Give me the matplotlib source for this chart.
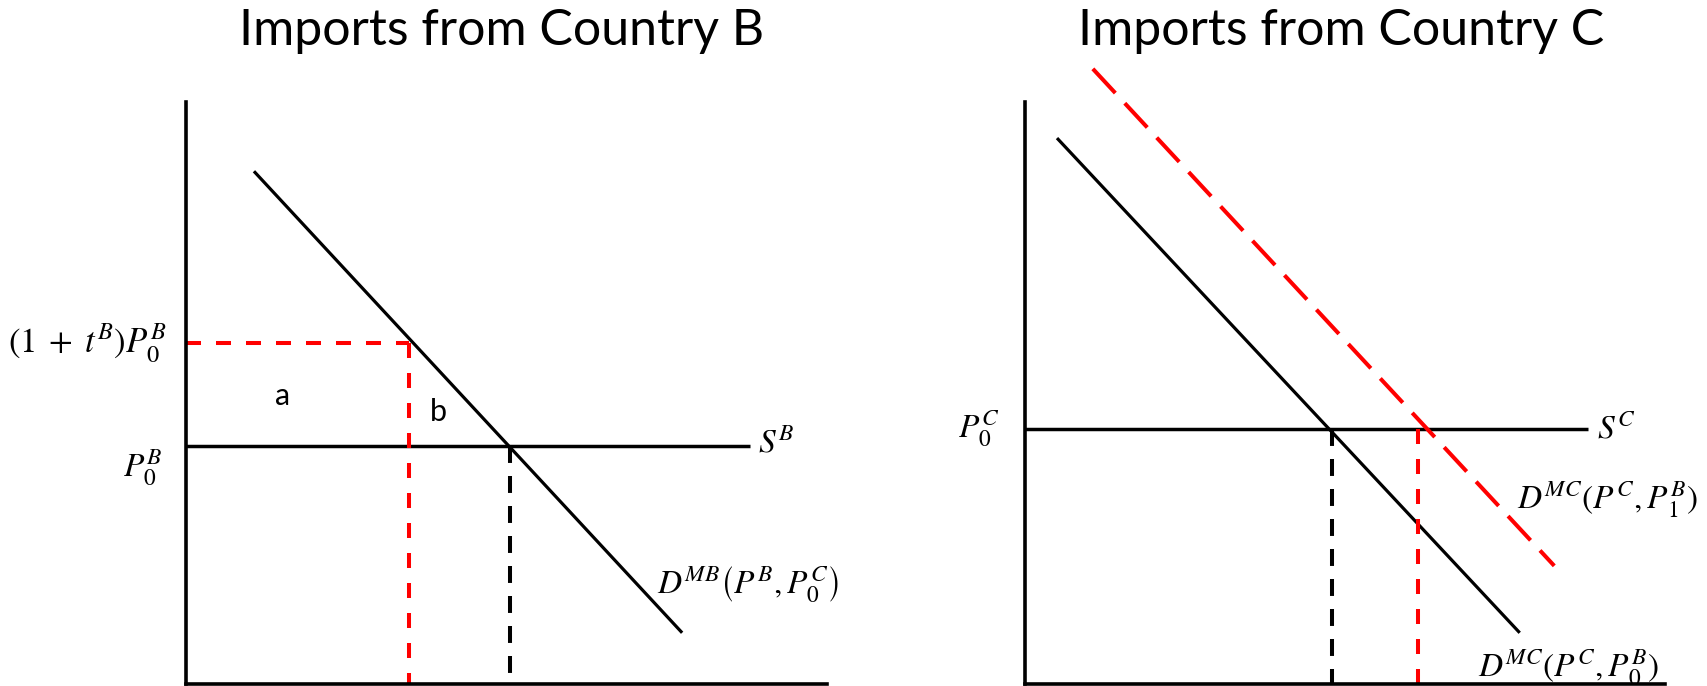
import matplotlib
matplotlib.use("Agg")
import matplotlib.pyplot as plt

plt.rcParams['mathtext.fontset'] = 'stix'
plt.rcParams['lines.scale_dashes'] = False

# ---------------- data (model units: quantity 0-10, price 0-10) ----------------
titles = ["Imports from Country B", "Imports from Country C"]

# Country B panel
supply_B_price = 4.09          # P0^B
tariff_B_price = 5.86          # (1+t^B) P0^B
supply_B_end = 8.8
demand_B_q = [1.06, 7.74]
demand_B_p = [8.81, 0.88]
q_B_free = 5.05                # imports at P0^B
q_B_tariff = 3.48              # imports with tariff

# Country C panel
supply_C_price = 4.38          # P0^C
supply_C_end = 8.8
demand_C0_q = [0.50, 7.73]
demand_C0_p = [9.38, 0.88]
demand_C1_q = [1.06, 8.27]
demand_C1_p = [10.57, 2.03]
q_C0 = 4.80
q_C1 = 6.14

LABEL_SIZE = 24
BLACK_LW = 2.3
RED_LW = 2.9
SHORT_RED = (0, (10.8, 10.8))
SHORT_BLK = (0, (12.2, 9.4))
LONG_RED = (0, (23.8, 10.0))

fig = plt.figure(figsize=(17.08, 6.86), dpi=100)
ax1 = fig.add_axes([186 / 1708, 2 / 686, 641 / 1708, 582 / 686])
ax2 = fig.add_axes([1025 / 1708, 2 / 686, 640 / 1708, 582 / 686])

for ax in (ax1, ax2):
    ax.set_xlim(0, 10)
    ax.set_ylim(0, 10)
    for s in ("top", "right"):
        ax.spines[s].set_visible(False)
    for s in ("left", "bottom"):
        ax.spines[s].set_linewidth(2.6)
        ax.spines[s].set_color("black")
    ax.set_xticks([])
    ax.set_yticks([])
    ax.patch.set_alpha(0)

# ---------------- Panel B ----------------
ax1.plot([0, supply_B_end], [supply_B_price, supply_B_price], color="black", lw=2.5,
         solid_capstyle="butt")
ax1.plot(demand_B_q, demand_B_p, color="black", lw=BLACK_LW, solid_capstyle="butt")
ax1.plot([0, q_B_tariff], [tariff_B_price, tariff_B_price], color="red", lw=RED_LW,
         linestyle=SHORT_RED)
ax1.plot([q_B_tariff, q_B_tariff], [tariff_B_price, 0], color="red", lw=RED_LW,
         linestyle=SHORT_RED)
ax1.plot([q_B_free, q_B_free], [supply_B_price, 0], color="black", lw=RED_LW,
         linestyle=SHORT_BLK)

ax1.annotate(r"$(1\;+\;t^B)P_0^B$", xy=(0, tariff_B_price), xytext=(-14, 0),
             textcoords="offset points", ha="right", va="center", fontsize=LABEL_SIZE + 1,
             annotation_clip=False)
ax1.annotate(r"$P_0^B$", xy=(0, supply_B_price), xytext=(-17, -1),
             textcoords="offset points", ha="right", va="top", fontsize=LABEL_SIZE,
             annotation_clip=False)
ax1.text(supply_B_end + 0.12, supply_B_price + 0.05, r"$S^B$", ha="left", va="center",
         fontsize=LABEL_SIZE)
ax1.text(7.35, 1.70, r"$D^{MB}\left(P^B,P_0^C\right)$", ha="left", va="center",
         fontsize=LABEL_SIZE, clip_on=False)
ax1.text(1.50, 4.95, "a", ha="center", va="center", fontsize=22, family="Lato")
ax1.text(3.93, 4.67, "b", ha="center", va="center", fontsize=22, family="Lato")

# ---------------- Panel C ----------------
ax2.plot([0, supply_C_end], [supply_C_price, supply_C_price], color="black", lw=2.5,
         solid_capstyle="butt")
ax2.plot(demand_C0_q, demand_C0_p, color="black", lw=BLACK_LW, solid_capstyle="butt")
ax2.plot(demand_C1_q, demand_C1_p, color="red", lw=RED_LW, linestyle=LONG_RED,
         clip_on=False)
ax2.plot([q_C0, q_C0], [supply_C_price, 0], color="black", lw=RED_LW, linestyle=SHORT_BLK)
ax2.plot([q_C1, q_C1], [supply_C_price, 0], color="red", lw=RED_LW, linestyle=SHORT_RED)

ax2.annotate(r"$P_0^C$", xy=(0, supply_C_price), xytext=(-18, 0),
             textcoords="offset points", ha="right", va="center", fontsize=LABEL_SIZE,
             annotation_clip=False)
ax2.text(supply_C_end + 0.14, supply_C_price, r"$S^C$", ha="left", va="center",
         fontsize=LABEL_SIZE)
ax2.text(7.69, 3.16, r"$D^{MC}(P^C,P_1^B)$", ha="left", va="center",
         fontsize=LABEL_SIZE, clip_on=False)
ax2.text(7.08, 0.27, r"$D^{MC}(P^C,P_0^B)$", ha="left", va="center",
         fontsize=LABEL_SIZE, clip_on=False)

# ---------------- Titles ----------------
fig.text(502 / 1708, 1 - 31 / 686, titles[0], ha="center", va="center", fontsize=36,
         family="Lato")
fig.text(1341 / 1708, 1 - 31 / 686, titles[1], ha="center", va="center", fontsize=36,
         family="Lato")

fig.savefig("out.png", dpi=100)
